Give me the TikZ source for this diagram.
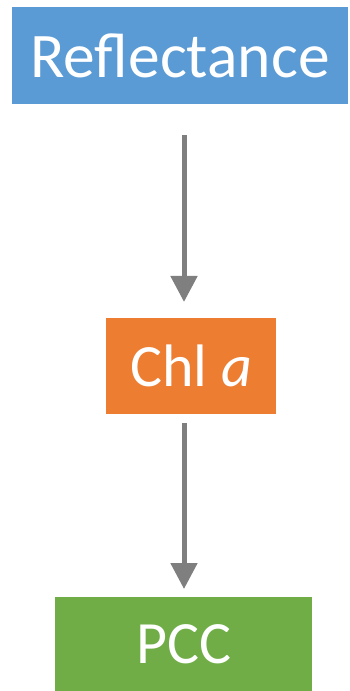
\documentclass[tikz,border=0pt]{standalone}
\usepackage{fontspec}
\setmainfont{Carlito}
\usetikzlibrary{arrows.meta}
\definecolor{cblue}{HTML}{5B9BD5}
\definecolor{corange}{HTML}{ED7D31}
\definecolor{cgreen}{HTML}{70AD47}
\definecolor{cgrey}{HTML}{7F7F7F}
\begin{document}
\begin{tikzpicture}[x=1pt,y=1pt,
  box/.style={rectangle, inner sep=0pt, outer sep=0pt, text=white,
    font=\fontsize{60}{72}\selectfont},
  arr/.style={draw=cgrey, line width=5pt, -{Triangle[width=26pt,length=26pt]}}]
\useasboundingbox (0,0) rectangle (349,-691);
\node[box, fill=cblue, minimum width=336pt, minimum height=97pt, font=\fontsize{63.5}{76}\selectfont] (refl) at (180,-55.5) {Reflectance};
\node[box, fill=corange, minimum width=170pt, minimum height=96.5pt] (chl) at (191,-366.2) {Chl \textit{a}};
\node[box, fill=cgreen, minimum width=257pt, minimum height=94pt] (pcc) at (183.5,-644) {PCC};
\coordinate (ax) at (184,0);
\draw[arr, shorten <=31pt, shorten >=16pt] (refl.south -| ax) -- (chl.north -| ax);
\draw[arr, shorten <=8.5pt, shorten >=8pt] (chl.south -| ax) -- (pcc.north -| ax);
\end{tikzpicture}
\end{document}
